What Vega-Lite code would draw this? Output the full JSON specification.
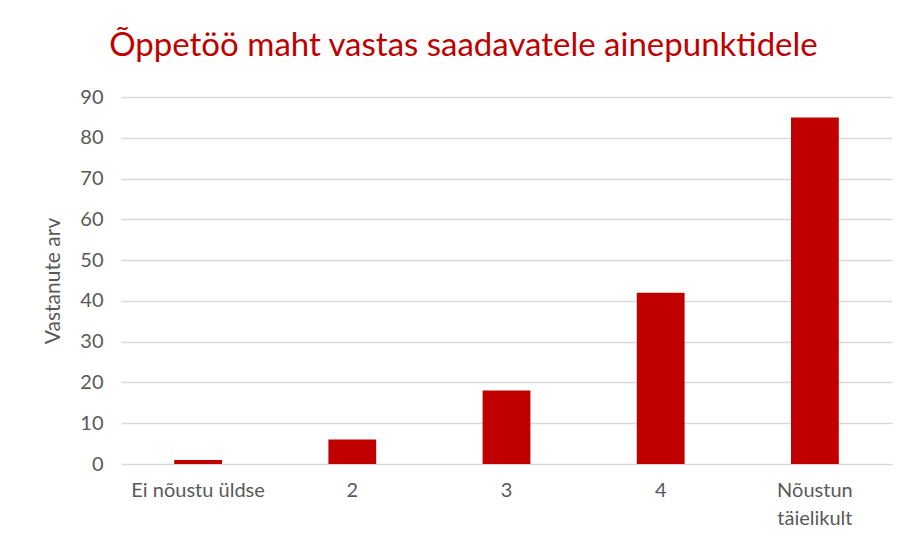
{
  "$schema": "https://vega.github.io/schema/vega-lite/v6.json",
  "width": 771,
  "height": 367,
  "autosize": "none",
  "padding": {"left": 121, "top": 97, "right": 17, "bottom": 83},
  "background": "white",
  "title": {
    "text": "Õppetöö maht vastas saadavatele ainepunktidele",
    "color": "#C00000",
    "font": "Lato",
    "fontSize": 33,
    "fontWeight": "normal",
    "anchor": "middle",
    "dx": -43,
    "offset": 24
  },
  "data": {
    "values": [
      {"vastus": "Ei nõustu üldse", "arv": 1},
      {"vastus": "2", "arv": 6},
      {"vastus": "3", "arv": 18},
      {"vastus": "4", "arv": 42},
      {"vastus": "Nõustun täielikult", "arv": 85}
    ]
  },
  "mark": {"type": "bar", "color": "#C00000"},
  "encoding": {
    "x": {
      "field": "vastus",
      "type": "nominal",
      "sort": null,
      "scale": {"paddingInner": 0.69, "paddingOuter": 0.345},
      "axis": {
        "title": null,
        "labelAngle": 0,
        "domain": false,
        "ticks": false,
        "labelPadding": 16,
        "labelFont": "Lato",
        "labelFontSize": 20,
        "labelColor": "#595959",
        "labelLineHeight": 28,
        "labelExpr": "datum.label == 'Nõustun täielikult' ? ['Nõustun', 'täielikult'] : datum.label"
      }
    },
    "y": {
      "field": "arv",
      "type": "quantitative",
      "scale": {"domain": [0, 90]},
      "axis": {
        "title": "Vastanute arv",
        "titleFont": "Lato",
        "titleFontSize": 21,
        "titleFontWeight": "normal",
        "titleColor": "#595959",
        "titlePadding": 16,
        "values": [0, 10, 20, 30, 40, 50, 60, 70, 80, 90],
        "domain": false,
        "ticks": false,
        "labelPadding": 18,
        "labelFont": "Lato",
        "labelFontSize": 20,
        "labelColor": "#595959",
        "gridColor": "#D9D9D9",
        "gridWidth": 1.3
      }
    }
  },
  "config": {"view": {"stroke": null}}
}
